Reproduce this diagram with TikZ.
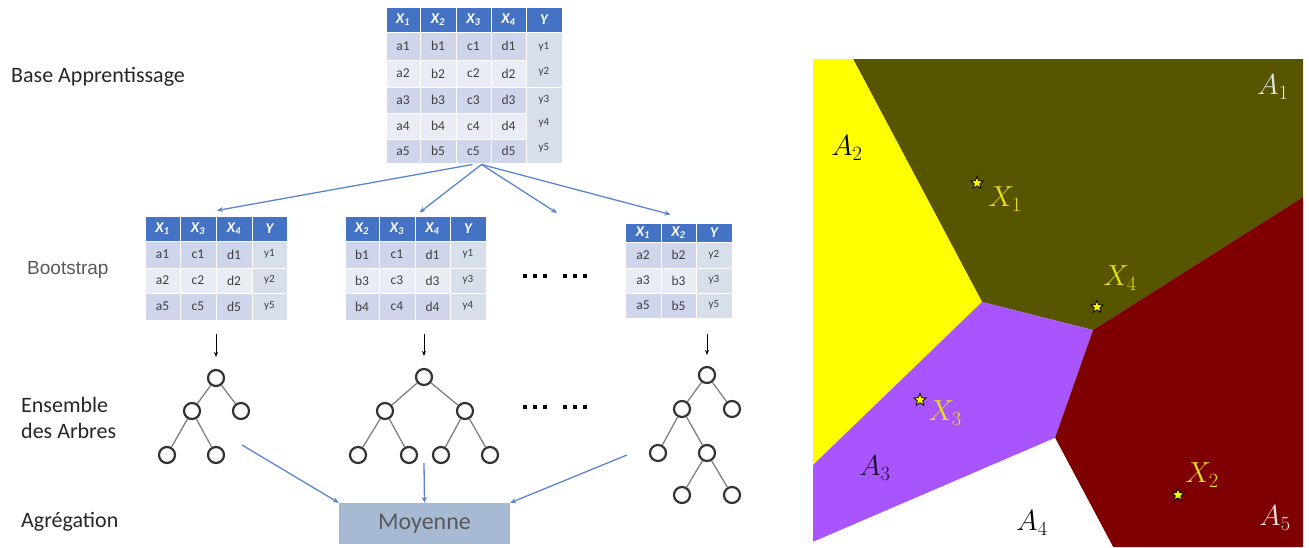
\documentclass[tikz,border=0pt]{standalone}
\usepackage{fix-cm}
\usepackage[no-math]{fontspec}
\setmainfont{Carlito}
\newfontfamily\arialf{Liberation Sans}
\usetikzlibrary{shapes.geometric,arrows.meta}
\definecolor{hdr}{HTML}{4472C4}
\definecolor{rowA}{HTML}{CFD5EA}
\definecolor{rowB}{HTML}{E9EBF5}
\definecolor{ycol}{HTML}{D6DFEA}
\definecolor{txtc}{HTML}{404040}
\definecolor{arrowblue}{HTML}{5B85CF}
\definecolor{moyfill}{HTML}{A6BAD4}
\definecolor{moytxt}{HTML}{595959}
\definecolor{labtxt}{HTML}{262626}
\definecolor{treeedge}{HTML}{808080}
\definecolor{treenode}{HTML}{333333}
\definecolor{vOlive}{HTML}{575500}
\definecolor{vYellow}{HTML}{FFFF00}
\definecolor{vPurple}{HTML}{A855FF}
\definecolor{vRed}{HTML}{7F0000}
\definecolor{vLab}{HTML}{E6E21A}
\definecolor{vLight}{HTML}{E6E6E6}
\newcommand\tcell[7]{%
  \node[cell, fill=#6, minimum width={(#4-#2)*1pt}, minimum height={(#5-#3)*1pt}] (#1) at ({(#2+#4)/2},{(#3+#5)/2}) {#7};}
\newcommand\hx[1]{{\color{white}\fontsize{15}{15}\selectfont\bfseries\itshape X\textsubscript{#1}}}
\newcommand\hy{{\color{white}\fontsize{15}{15}\selectfont\bfseries\itshape Y}}
\newcommand\yl[1]{{\fontsize{11}{11}\selectfont #1}}
\tikzset{
  cell/.style={draw=white, line width=1pt, inner sep=0pt, text=txtc, font=\fontsize{13.5}{14}\selectfont},
  lab/.style={inner sep=0pt, text=labtxt, font=\fontsize{22}{26}\selectfont},
  tn/.style={circle, draw=treenode, line width=2.2pt, minimum size=16pt, inner sep=0pt},
  te/.style={draw=treeedge, line width=1.3pt},
  barrow/.style={draw=arrowblue, line width=1.3pt, -{Stealth[length=6pt,width=5pt]}},
  karrow/.style={draw=black, line width=0.9pt, -{Stealth[length=5pt,width=4pt]}},
  vstar/.style={star, star points=5, star point ratio=2.3, fill=vYellow, draw=black, line width=0.8pt, minimum size=13pt, inner sep=0pt},
  vlab/.style={inner sep=0pt, font=\fontsize{29}{30}\selectfont},
}
\begin{document}
\begin{tikzpicture}[x=1pt,y=-1pt]
\useasboundingbox (0,0) rectangle (1309,547);
% ---------- left labels
\node[lab, anchor=west] (lbase) at (11,77) {Base Apprentissage};
\node[anchor=west, inner sep=0pt, text=moytxt, font=\arialf\fontsize{19}{19}\selectfont] (lboot) at (27,270) {Bootstrap};
\node[lab, anchor=west, align=left] (lens) at (21,418) {Ensemble\\des Arbres};
\node[lab, anchor=west] (lagr) at (21,522) {Agrégation};
% ---------- top table
\foreach \colI/\xa/\xb/\letr in {1/386/420/a, 2/420/456/b, 3/456/491/c, 4/491/526/d} {
  \tcell{T-h\colI}{\xa}{7}{\xb}{32}{hdr}{\hx{\colI}}
  \foreach \rowI/\ya/\yb/\fcol in {1/32/60/rowA, 2/60/87/rowB, 3/87/113/rowA, 4/113/139/rowB, 5/139/163/rowA} {
    \tcell{T-\letr\rowI}{\xa}{\ya}{\xb}{\yb}{\fcol}{\letr\rowI}
  }
}
\tcell{T-hY}{526}{7}{562}{32}{hdr}{\hy}
\tcell{T-Ya}{526}{32}{562}{87}{ycol}{}
\tcell{T-Yb}{526}{87}{562}{163}{ycol}{}
\foreach \rowI/\yy in {1/47, 2/72, 3/100, 4/123, 5/148} {
  \node[inner sep=0pt, text=txtc] (T-y\rowI) at (544,\yy) {\yl{y\rowI}};
}
% ---------- bootstrap table 1
\tcell{B1-h1}{145}{216}{180}{241}{hdr}{\hx{1}}
\tcell{B1-h2}{180}{216}{216}{241}{hdr}{\hx{3}}
\tcell{B1-h3}{216}{216}{252}{241}{hdr}{\hx{4}}
\tcell{B1-h4}{252}{216}{287}{241}{hdr}{\hy}
\foreach \rowI/\ya/\yb/\fcol/\va/\vb/\vc/\vy in {1/241/268/rowA/a1/c1/d1/y1, 2/268/293/rowB/a2/c2/d2/y2, 3/293/320/rowA/a5/c5/d5/y5} {
  \tcell{B1-\rowI-a}{145}{\ya}{180}{\yb}{\fcol}{\va}
  \tcell{B1-\rowI-b}{180}{\ya}{216}{\yb}{\fcol}{\vb}
  \tcell{B1-\rowI-c}{216}{\ya}{252}{\yb}{\fcol}{\vc}
  \tcell{B1-\rowI-y}{252}{\ya}{287}{\yb}{ycol}{\raisebox{3pt}{\yl{\vy}}}
}
% ---------- bootstrap table 2
\tcell{B2-h1}{345}{216}{379}{241}{hdr}{\hx{2}}
\tcell{B2-h2}{379}{216}{415}{241}{hdr}{\hx{3}}
\tcell{B2-h3}{415}{216}{450}{241}{hdr}{\hx{4}}
\tcell{B2-h4}{450}{216}{486}{241}{hdr}{\hy}
\foreach \rowI/\ya/\yb/\fcol/\va/\vb/\vc/\vy in {1/241/268/rowA/b1/c1/d1/y1, 2/268/293/rowB/b3/c3/d3/y3, 3/293/320/rowA/b4/c4/d4/y4} {
  \tcell{B2-\rowI-a}{345}{\ya}{379}{\yb}{\fcol}{\va}
  \tcell{B2-\rowI-b}{379}{\ya}{415}{\yb}{\fcol}{\vb}
  \tcell{B2-\rowI-c}{415}{\ya}{450}{\yb}{\fcol}{\vc}
  \tcell{B2-\rowI-y}{450}{\ya}{486}{\yb}{ycol}{\raisebox{3pt}{\yl{\vy}}}
}
% ---------- bootstrap table 3
\tcell{B3-h1}{625}{223}{661}{242}{hdr}{\hx{1}}
\tcell{B3-h2}{661}{223}{696}{242}{hdr}{\hx{2}}
\tcell{B3-h3}{696}{223}{732}{242}{hdr}{\hy}
\foreach \rowI/\ya/\yb/\fcol/\va/\vb/\vy in {1/242/268/rowA/a2/b2/y2, 2/268/293/rowB/a3/b3/y3, 3/293/318/rowA/a5/b5/y5} {
  \tcell{B3-\rowI-a}{625}{\ya}{661}{\yb}{\fcol}{\va}
  \tcell{B3-\rowI-b}{661}{\ya}{696}{\yb}{\fcol}{\vb}
  \tcell{B3-\rowI-y}{696}{\ya}{732}{\yb}{ycol}{\raisebox{3pt}{\yl{\vy}}}
}
% ---------- arrows from top table
\draw[barrow] ([xshift=-1pt,yshift=-1pt]T-c5.south) -- ([xshift=-17pt,yshift=5pt]B1-h3.north);
\draw[barrow] ([xshift=8pt,yshift=-1pt]T-c5.south) -- ([xshift=5pt,yshift=3pt]B2-h3.north west);
\coordinate (dotsT) at (557,213);
\draw[barrow] ([xshift=8pt,yshift=-1pt]T-c5.south) -- (dotsT);
\draw[barrow] ([xshift=8pt,yshift=-1pt]T-c5.south) -- ([xshift=-8pt,yshift=8pt]B3-h2.north);
% ---------- dots
\foreach \xd in {525,535,545,565,575,585} {
  \fill (\xd-2.2,274) rectangle (\xd+2.2,278.4);
  \fill (\xd-2.2,405) rectangle (\xd+2.2,409.4);
}
% ---------- trees
\node[tn] (t1r) at (216,378) {};
\node[tn] (t1a) at (192,411) {};
\node[tn] (t1b) at (241,411) {};
\node[tn] (t1c) at (167,455) {};
\node[tn] (t1d) at (216,455) {};
\draw[te] (t1r) -- (t1a); \draw[te] (t1r) -- (t1b);
\draw[te] (t1a) -- (t1c); \draw[te] (t1a) -- (t1d);
\node[tn] (t2r) at (424,377) {};
\node[tn] (t2a) at (385,411) {};
\node[tn] (t2b) at (465,411) {};
\node[tn] (t2c) at (358,455) {};
\node[tn] (t2d) at (409,455) {};
\node[tn] (t2e) at (441,455) {};
\node[tn] (t2f) at (490,455) {};
\draw[te] (t2r) -- (t2a); \draw[te] (t2r) -- (t2b);
\draw[te] (t2a) -- (t2c); \draw[te] (t2a) -- (t2d);
\draw[te] (t2b) -- (t2e); \draw[te] (t2b) -- (t2f);
\node[tn] (t3r) at (707,375) {};
\node[tn] (t3a) at (682,409) {};
\node[tn] (t3b) at (732,409) {};
\node[tn] (t3c) at (658,453) {};
\node[tn] (t3d) at (707,453) {};
\node[tn] (t3e) at (682,495) {};
\node[tn] (t3f) at (732,495) {};
\draw[te] (t3r) -- (t3a); \draw[te] (t3r) -- (t3b);
\draw[te] (t3a) -- (t3c); \draw[te] (t3a) -- (t3d);
\draw[te] (t3d) -- (t3e); \draw[te] (t3d) -- (t3f);
% ---------- black arrows table -> tree
\coordinate (k1) at (t1r.north |- B1-3-b.south);
\coordinate (k2) at (t2r.north |- B2-3-c.south);
\coordinate (k3) at (t3r.north |- B3-3-y.south);
\draw[karrow] ([yshift=-13pt]k1) -- ([yshift=12pt]t1r.north);
\draw[karrow] ([yshift=-13pt]k2) -- ([yshift=12pt]t2r.north);
\draw[karrow] ([yshift=-15pt]k3) -- ([yshift=11pt]t3r.north);
% ---------- aggregation
\node[fill=moyfill, minimum width=171pt, minimum height=41pt, inner sep=0pt, text=moytxt, font=\fontsize{24}{24}\selectfont] (moy) at (424.5,523.5) {Moyenne};
\coordinate (m1) at (242,445);
\coordinate (m2) at (424,463);
\coordinate (m3) at (627,455);
\draw[barrow] (m1) -- (moy.north west);
\draw[barrow] (m2) -- (moy.north);
\draw[barrow] (m3) -- (moy.north east);
% ---------- Voronoi
\fill[vOlive] (853,59) -- (1303,59) -- (1303,197) -- (1093,330) -- (982,302) -- cycle;
\fill[vYellow] (813,59) -- (853,59) -- (982,302) -- (813,465) -- cycle;
\fill[vPurple] (813,465) -- (982,302) -- (1093,330) -- (1055,438) -- (813,542) -- cycle;
\fill[vRed] (1303,197) -- (1303,547) -- (1113,547) -- (1055,438) -- (1093,330) -- cycle;
\fill[white] (813,542) -- (1055,438) -- (1113,547) -- (813,547) -- cycle;
\node[vstar] (s1) at (977,183) {};
\node[vstar] (s4) at (1097,307) {};
\node[vstar] (s3) at (920,400) {};
\node[vstar] (s2) at (1178,495) {};
\node[vlab, text=vLight] (A1) at (1273,87) {$A_1$};
\node[vlab, text=black] (A2) at (847,148) {$A_2$};
\node[vlab, text=black!85!vPurple] (A3) at (875,468) {$A_3$};
\node[vlab, text=black] (A4) at (1032,523) {$A_4$};
\node[vlab, text=vLight] (A5) at (1275,518) {$A_5$};
\node[vlab, text=vLab] (X1) at (1005,199) {$X_1$};
\node[vlab, text=vLab] (X4) at (1120,278) {$X_4$};
\node[vlab, text=vLab] (X3) at (945,413) {$X_3$};
\node[vlab, text=vLab] (X2) at (1202,475) {$X_2$};
\end{tikzpicture}
\end{document}
